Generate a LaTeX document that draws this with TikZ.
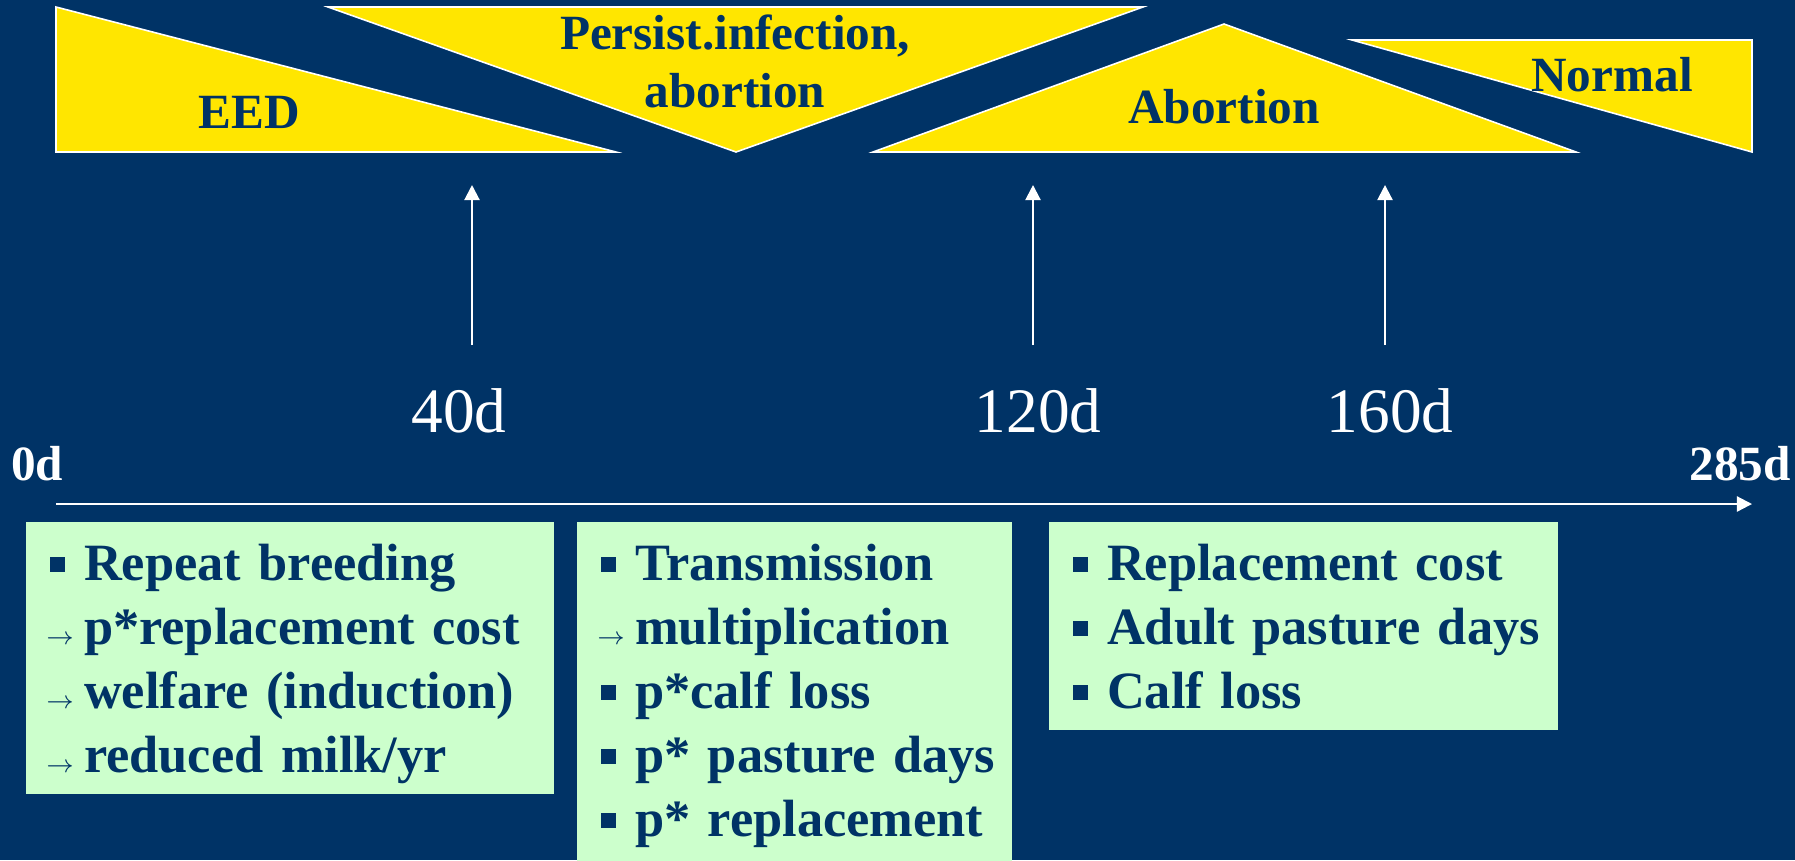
\documentclass[tikz,border=0pt]{standalone}
\usepackage{fontspec}
\setmainfont{Liberation Serif}
\usetikzlibrary{arrows.meta}

\definecolor{navy}{RGB}{0,51,102}
\definecolor{wedgeyellow}{RGB}{255,230,0}
\definecolor{notegreen}{RGB}{204,255,204}

\newcommand{\sqitem}[1]{\mbox{\makebox[9.8pt][l]{\raisebox{2.6pt}{\rule{4.3pt}{4.3pt}}}#1}}
\newcommand{\aritem}[1]{\mbox{\makebox[9.8pt][l]{\hspace{-1pt}\fontsize{7}{7}\selectfont$\rightarrow$}#1}}
\newcommand{\boxtop}{\rule{0pt}{16.8pt}}
\newcommand{\boxbot}[1][6pt]{\rule[-#1]{0pt}{#1}}

\begin{document}
\begin{tikzpicture}
[x=0.01cm, y=-0.01cm]

\tikzstyle{wedge}=[fill=wedgeyellow, draw=white, line width=0.45pt]
\tikzstyle{wedgelabel}=[text=navy, font=\fontsize{14}{16.3}\selectfont\bfseries, align=center, anchor=base]
\tikzstyle{daylabel}=[text=white, font=\fontsize{18}{18}\selectfont\mdseries, anchor=base]
\tikzstyle{endlabel}=[text=white, font=\fontsize{14}{14}\selectfont\bfseries, anchor=base]
\tikzstyle{tick}=[white, line width=0.6pt, -{Triangle[length=4.3pt, width=4.3pt]}]
\tikzstyle{note}=[fill=notegreen, text=navy, anchor=north west, align=left, inner xsep=6.8pt, inner ysep=0pt, font=\fontsize{14.9}{18.2}\selectfont\bfseries]

\fill[navy] (0,0) rectangle (1795,860);
\clip (0,0) rectangle (1795,860);

\draw[wedge] (56,7) -- (56,152) -- (616,152) -- cycle;
\draw[wedge] (328,7) -- (1143,7) -- (736,152) -- cycle;
\draw[wedge] (873,152) -- (1224,24) -- (1576,152) -- cycle;
\draw[wedge] (1352,40) -- (1752,40) -- (1752,152) -- cycle;

\node[wedgelabel] (eed)      at (249,128)  {EED};
\node[wedgelabel] (persist)  at (735,107)  {Persist.infection,\\abortion};
\node[wedgelabel] (abortion) at (1224,123) {Abortion};
\node[wedgelabel] (normal)   at (1612,91)  {Normal};

\coordinate (t40)  at (472,345);  \coordinate (h40)  at (472,185);
\coordinate (t120) at (1033,345); \coordinate (h120) at (1033,185);
\coordinate (t160) at (1385,345); \coordinate (h160) at (1385,185);
\draw[tick] (t40)--(h40);
\draw[tick] (t120)--(h120);
\draw[tick] (t160)--(h160);

\node[daylabel] (d40)  at (459,432)  {40d};
\node[daylabel] (d120) at (1038,432) {120d};
\node[daylabel] (d160) at (1390,432) {160d};
\node[endlabel] (d0)   at (37,480)   {0d};
\node[endlabel] (d285) at (1740,480) {285d};

\coordinate (start) at (56,504);
\coordinate (term)  at (1752,504);
\draw[tick] (start)--(term);

\node[note, text width=136.6pt] (early) at (25,521)
  {\boxtop\sqitem{Repeat breeding}\\ \aritem{p*replacement cost}\\ \aritem{welfare (induction)}\\ \aritem{reduced milk/yr}\boxbot};
\node[note, text width=110.2pt] (middle) at (576,521)
  {\boxtop\sqitem{Transmission}\\ \aritem{multiplication}\\ \sqitem{p*calf loss}\\ \sqitem{p* pasture days}\\ \sqitem{p* replacement}\boxbot[8pt]};
\node[note, text width=131.2pt] (late) at (1048,521)
  {\boxtop\sqitem{Replacement cost}\\ \sqitem{Adult pasture days}\\ \sqitem{Calf loss}\boxbot};
\end{tikzpicture}
\end{document}
